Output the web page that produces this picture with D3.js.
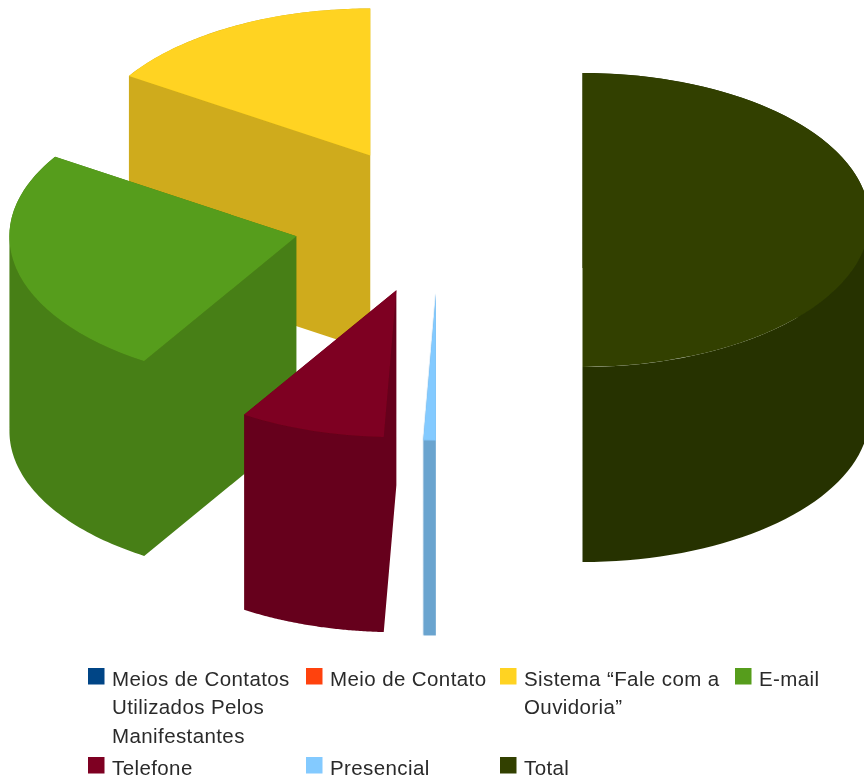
<!DOCTYPE html>
<html><head><meta charset="utf-8">
<script src="https://cdnjs.cloudflare.com/ajax/libs/d3/7.8.5/d3.min.js"></script>
<style>html,body{margin:0;padding:0;background:#fff}svg{display:block}
text{font-family:"Liberation Sans",Arial,sans-serif;font-size:20.5px;letter-spacing:0.4px;fill:#2a2a2a}</style>
</head><body><svg id="c" width="864" height="782"></svg>
<script>
const categories=["Meios de Contatos Utilizados Pelos Manifestantes","Meio de Contato","Sistema “Fale com a Ouvidoria”","E-mail","Telefone","Presencial","Total"];
const shares=[0,0,15.9,25.2,8.2,0.7,50];
const explodeBy=[0.5,0.5,0.5,0.509,0.5,0.5,0.5];
const topColors=["#004586","#ff420e","#ffd320","#579d1c","#7e0021","#83caff","#314004"];
const wallColors=["#003a70","#cc350b","#cfab1a","#477f16","#66001a","#6ba4cf","#273303"];
const legendLines=[["Meios de Contatos","Utilizados Pelos","Manifestantes"],["Meio de Contato"],["Sistema “Fale com a","Ouvidoria”"],["E-mail"],["Telefone"],["Presencial"],["Total"]];
const legendX=[88,306,500,735,88,306,500];
const legendY=[668,668,668,668,757,757,757];

const cx=439,cy=220,rx=287,ry=147,depth=195;
const svg=d3.select("#c");
const defs=svg.append("defs");
defs.append("filter").attr("id","soft").attr("x","-5%").attr("y","-5%").attr("width","110%").attr("height","110%")
  .append("feGaussianBlur").attr("stdDeviation",0.7);
defs.append("filter").attr("id","softT").attr("x","-5%").attr("y","-30%").attr("width","110%").attr("height","160%")
  .append("feGaussianBlur").attr("stdDeviation",0.7);

// counter-clockwise from twelve o'clock
const pie=d3.pie().sort(null).startAngle(0).endAngle(-2*Math.PI);
const arcs=pie(shares);
const unitArc=d3.arc().innerRadius(0).outerRadius(1);
const px=a=>Math.sin(a)*rx, py=a=>-Math.cos(a)*ry;
const line=d3.line();

const chart=svg.append("g").attr("filter","url(#soft)");
arcs.forEach((d,i)=>{
  if(d.value===0) return;
  const mid=(d.startAngle+d.endAngle)/2;
  const ox=cx+px(mid)*explodeBy[i], oy=cy+py(mid)*explodeBy[i];
  const g=chart.append("g").attr("transform",`translate(${ox},${oy})`);
  const steps=d3.range(0,1.0001,1/80).map(t=>d.startAngle+(d.endAngle-d.startAngle)*t);
  const rim=steps.map(a=>[px(a),py(a)]);
  const outline=[[0,0],...rim,[0,0]];
  const sweep=p=>[p[0],p[1]+depth];
  // every wall quad goes into one path, all wound the same way, so folds fill solid
  const quads=d3.pairs(outline).map(([a,b])=>{
    const q=[a,b,sweep(b),sweep(a)];
    return line(d3.polygonArea(q)<0?q.slice().reverse():q)+"Z";
  });
  g.append("path").attr("d",quads.join("")).attr("fill",wallColors[i]);
  g.append("path").attr("d",unitArc(d)).attr("transform",`scale(${rx},${ry})`).attr("fill",topColors[i]);
});

const legend=svg.append("g").selectAll("g").data(categories).join("g")
  .attr("transform",(d,i)=>`translate(${legendX[i]},${legendY[i]})`);
legend.append("rect").attr("width",16.5).attr("height",16.5).attr("fill",(d,i)=>topColors[i]).attr("filter","url(#soft)");
legend.append("g").attr("filter","url(#softT)").selectAll("text").data((d,i)=>legendLines[i]).join("text")
  .attr("x",24).attr("y",(d,j)=>18+j*28.3).text(d=>d);
</script></body></html>
